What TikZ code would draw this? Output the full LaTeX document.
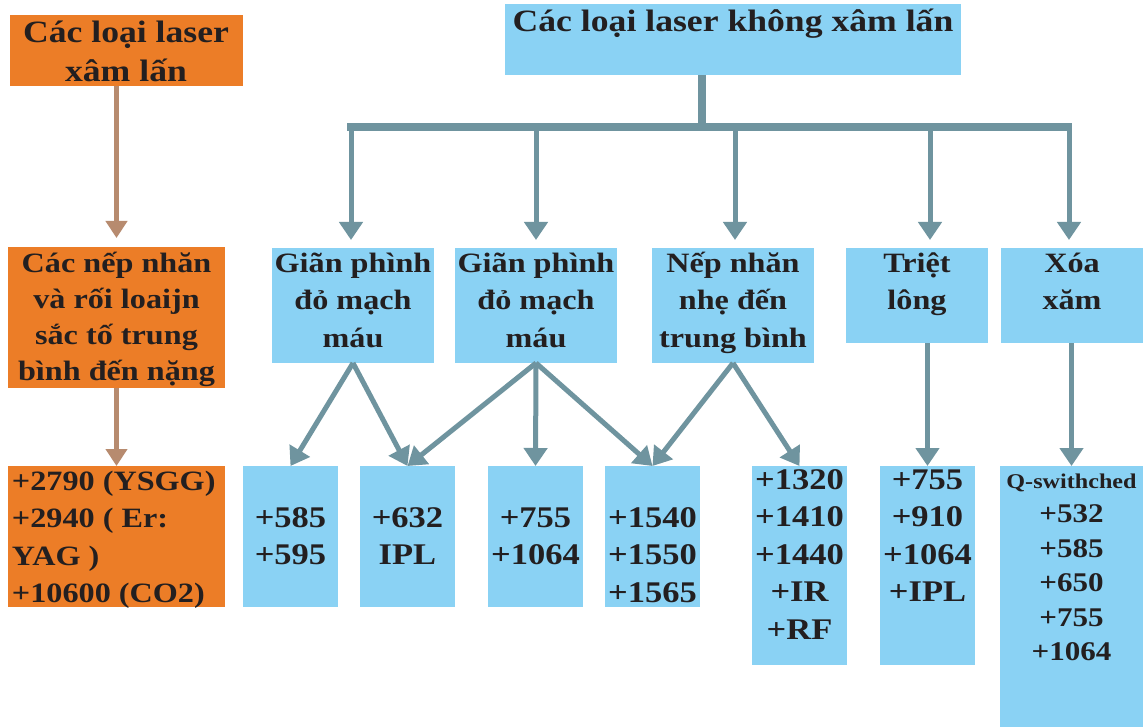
\documentclass[tikz,border=0pt]{standalone}
\usepackage{fontspec}
\setmainfont{Liberation Serif Bold}[FakeStretch=1.15]
\usetikzlibrary{arrows.meta}
\definecolor{lblue}{HTML}{8AD2F4}
\definecolor{orng}{HTML}{EC7D27}
\definecolor{arrowgray}{HTML}{6F949F}
\definecolor{arrowtan}{HTML}{B78B6F}
\definecolor{ink}{HTML}{231F20}
\tikzset{
  box/.style={fill=#1, draw=none, inner sep=0pt, outer sep=0pt, anchor=north west},
  txt/.style={text=ink, align=center, inner sep=0pt, outer sep=0pt, anchor=base},
  fbig/.style={font=\fontsize{31}{39}\selectfont},
  fmid/.style={font=\fontsize{28}{37.5}\selectfont},
  fnum/.style={font=\fontsize{30}{37.6}\selectfont},
  fq/.style={font=\fontsize{27}{34.5}\selectfont},
  arr/.style={draw=arrowgray, line width=5pt, -{Triangle[width=23pt,length=18pt]}},
  oarr/.style={draw=arrowtan, line width=5pt, -{Triangle[width=21pt,length=17pt]}},
  barline/.style={draw=arrowgray, line width=8pt}
}
\begin{document}
\begin{tikzpicture}[x=1pt,y=-1pt]
\fill[white] (0,0) rectangle (1143,727);
\useasboundingbox (0,0) rectangle (1143,727);

% boxes
\node[box=orng, minimum width=233pt, minimum height=71pt] (inv) at (10,15) {};
\node[box=lblue, minimum width=456pt, minimum height=71pt] (top) at (505,4) {};
\node[box=orng, minimum width=217pt, minimum height=141pt] (mL) at (8,247) {};
\node[box=orng, minimum width=217pt, minimum height=141pt] (bL) at (8,466) {};

\node[box=lblue, minimum width=162pt, minimum height=115pt] (m1) at (272,248) {};
\node[box=lblue, minimum width=162pt, minimum height=115pt] (m2) at (455,248) {};
\node[box=lblue, minimum width=162pt, minimum height=115pt] (m3) at (652,248) {};
\node[box=lblue, minimum width=142pt, minimum height=95pt] (m4) at (846,248) {};
\node[box=lblue, minimum width=142pt, minimum height=95pt] (m5) at (1001,248) {};

\node[box=lblue, minimum width=95pt, minimum height=141pt] (b1) at (243,466) {};
\node[box=lblue, minimum width=95pt, minimum height=141pt] (b2) at (360,466) {};
\node[box=lblue, minimum width=95pt, minimum height=141pt] (b3) at (488,466) {};
\node[box=lblue, minimum width=95pt, minimum height=141pt] (b4) at (605,466) {};
\node[box=lblue, minimum width=95pt, minimum height=199pt] (b5) at (752,466) {};
\node[box=lblue, minimum width=95pt, minimum height=199pt] (b6) at (880,466) {};
\node[box=lblue, minimum width=143pt, minimum height=261pt] (b7) at (1000,466) {};

% texts (anchor = baseline of the last line)
\node[txt, fbig] (tinv) at (126,82) {Các loại laser\\xâm lấn};
\node[txt, fbig] (ttop) at (733,32) {Các loại laser không xâm lấn};
\node[txt, font=\fontsize{28}{36.2}\selectfont] (tmL) at (116.5,380.6) {Các nếp nhăn\\và rối loaijn\\sắc tố trung\\bình đến nặng};
\node[txt, fmid, align=left, anchor=base west] (tbL) at (12,602.5) {+2790 (YSGG)\\+2940 ( Er:\\YAG )\\+10600 (CO2)};

\node[txt, fmid] (tm1) at (353,347) {Giãn phình\\đỏ mạch\\máu};
\node[txt, fmid] (tm2) at (536,347) {Giãn phình\\đỏ mạch\\máu};
\node[txt, fmid] (tm3) at (733,347) {Nếp nhăn\\nhẹ đến\\trung bình};
\node[txt, fmid] (tm4) at (917,309.5) {Triệt\\lông};
\node[txt, fmid] (tm5) at (1072,309.5) {Xóa\\xăm};

\node[txt, fnum] (tb1) at (290.5,564.6) {+585\\+595};
\node[txt, fnum] (tb2) at (407.5,564.6) {+632\\IPL};
\node[txt, fnum] (tb3) at (535.5,564.6) {+755\\+1064};
\node[txt, fnum] (tb4) at (652.5,602.2) {+1540\\+1550\\+1565};
\node[txt, fnum] (tb5) at (799.5,639.4) {+1320\\+1410\\+1440\\+IR\\+RF};
\node[txt, fnum] (tb6) at (927.5,601.8) {+755\\+910\\+1064\\+IPL};
\node[txt, fq] (tb7) at (1071.5,660.5) {{\fontsize{21}{25}\selectfont Q-swithched}\\+532\\+585\\+650\\+755\\+1064};

% top tree
\coordinate (hub) at (702,127);
\coordinate (barL) at (347,127);
\coordinate (barR) at (1072,127);
\draw[barline] (hub |- top.south) -- (hub);
\draw[barline] (barL) -- (barR);
\draw[arr] ([xshift=-2pt]m1.north |- hub) -- ([xshift=-2pt,yshift=8pt]m1.north);
\draw[arr] (m2.north |- hub) -- ([yshift=8pt]m2.north);
\draw[arr] ([xshift=2pt]m3.north |- hub) -- ([xshift=2pt,yshift=8pt]m3.north);
\draw[arr] ([xshift=13pt]m4.north |- hub) -- ([xshift=13pt,yshift=8pt]m4.north);
\draw[arr] ([xshift=-3pt]m5.north |- hub) -- ([xshift=-3pt,yshift=8pt]m5.north);

% orange arrows
\draw[oarr] (mL.north |- inv.south) -- ([yshift=9pt]mL.north);
\draw[oarr] (mL.south) -- (bL.north);

% lower arrows
\draw[arr] (m1.south) -- (b1.north);
\draw[arr] (m1.south) -- (b2.north);
\draw[arr] (m2.south) -- (b2.north);
\draw[arr] (m2.south) -- (b3.north);
\draw[arr] (m2.south) -- (b4.north);
\draw[arr] (m3.south) -- (b4.north);
\draw[arr] (m3.south) -- (b5.north);
\draw[arr] (b6.north |- m4.south) -- (b6.north);
\draw[arr] (b7.north |- m5.south) -- (b7.north);
\end{tikzpicture}
\end{document}
